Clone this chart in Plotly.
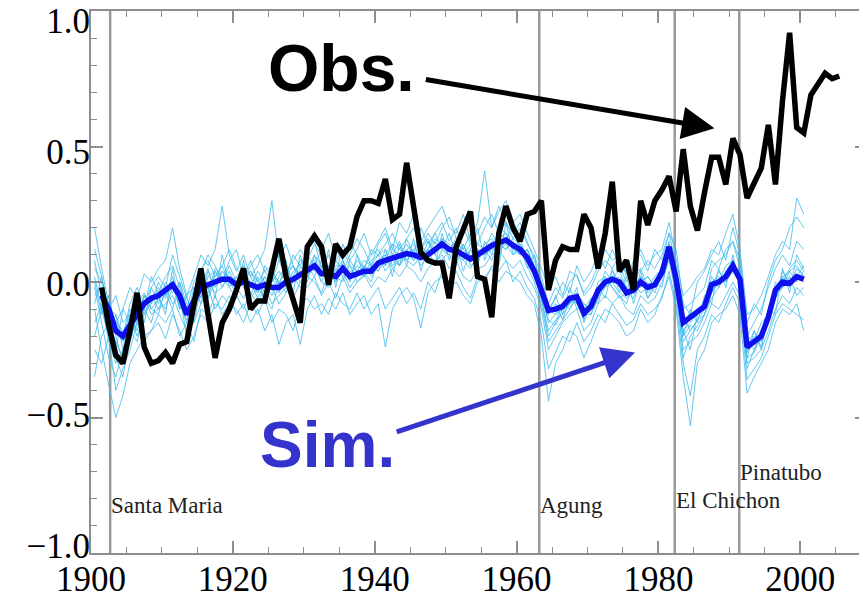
import plotly.graph_objects as go

# ---------------- data ----------------
obs_years = list(range(1901, 2006))
obs_anom = [
    -0.02, -0.16, -0.27, -0.30, -0.18, -0.04, -0.24, -0.30, -0.29,
    -0.26, -0.30, -0.23, -0.22, -0.08, 0.05, -0.12, -0.28, -0.15, -0.10,
    -0.03, 0.05, -0.10, -0.07, -0.07, 0.05, 0.16, 0.02, -0.07, -0.15,
    0.13, 0.17, 0.13, -0.01, 0.14, 0.10, 0.13, 0.24, 0.30, 0.30,
    0.29, 0.38, 0.23, 0.25, 0.44, 0.27, 0.11, 0.08, 0.07, 0.07,
    -0.06, 0.13, 0.19, 0.26, 0.02, 0.01, -0.13, 0.18, 0.28, 0.20,
    0.15, 0.25, 0.26, 0.30, -0.03, 0.08, 0.13, 0.12, 0.12, 0.25,
    0.20, 0.05, 0.18, 0.37, 0.04, 0.08, -0.03, 0.30, 0.21, 0.30,
    0.34, 0.39, 0.26, 0.49, 0.28, 0.19, 0.33, 0.46, 0.46, 0.36,
    0.53, 0.47, 0.31, 0.37, 0.42, 0.58, 0.36, 0.67, 0.92, 0.57,
    0.55, 0.69, 0.73, 0.77, 0.75, 0.76,
]

sim_years = list(range(1901, 2001))
sim_mean = [
    -0.05, -0.10, -0.18, -0.20, -0.16, -0.12, -0.08, -0.06, -0.05,
    -0.03, -0.01, -0.05, -0.12, -0.07, -0.02, -0.01, 0.00, 0.01, 0.01,
    -0.01, 0.00, -0.01, -0.02, -0.01, -0.02, -0.02, 0.00, 0.01, 0.025,
    0.04, 0.06, 0.03, 0.03, 0.02, 0.05, 0.02, 0.03, 0.04, 0.04,
    0.07, 0.08, 0.09, 0.10, 0.105, 0.10, 0.09, 0.10, 0.12, 0.14,
    0.12, 0.115, 0.10, 0.085, 0.10, 0.12, 0.135, 0.145, 0.155, 0.135,
    0.12, 0.09, 0.04, -0.03, -0.105, -0.10, -0.09, -0.06, -0.055, -0.115,
    -0.09, -0.03, 0.00, 0.01, 0.00, -0.04, -0.03, 0.00, -0.02, -0.01,
    0.035, 0.13, 0.01, -0.15, -0.13, -0.11, -0.09, -0.01, 0.00, 0.02,
    0.06, 0.01, -0.24, -0.22, -0.20, -0.13, -0.03, 0.00, -0.005, 0.02,
    0.01,
]

member_years = list(range(1900, 2001))
member_a = [
    0.20, 0.05, -0.08, -0.15, -0.10, -0.02, -0.06, 0.03, 0.00, 0.05,
    0.08, 0.20, 0.05, -0.05, 0.02, 0.10, 0.06, 0.12, 0.28, 0.10,
    0.04, 0.10, 0.02, 0.06, 0.12, 0.30, 0.08, 0.02, 0.10, 0.06,
    0.12, 0.15, 0.05, 0.10, 0.02, 0.14, 0.08, 0.12, 0.18, 0.10,
    0.15, 0.20, 0.12, 0.22, 0.18, 0.25, 0.15, 0.20, 0.24, 0.28,
    0.20, 0.18, 0.25, 0.15, 0.22, 0.41, 0.20, 0.26, 0.30, 0.22,
    0.25, 0.18, 0.12, 0.05, -0.02, 0.02, -0.05, 0.04, 0.02, -0.04,
    0.00, 0.06, 0.12, 0.08, 0.10, 0.03, 0.05, 0.12, 0.06, 0.10,
    0.12, 0.22, 0.08, -0.05, -0.02, 0.02, 0.05, 0.12, 0.10, 0.18,
    0.25, 0.12, -0.12, -0.10, -0.05, 0.02, 0.10, 0.15, 0.12, 0.31,
    0.25,
]
member_b = [
    -0.10, -0.25, -0.38, -0.50, -0.42, -0.30, -0.25, -0.20, -0.18, -0.15,
    -0.21, -0.12, -0.18, -0.25, -0.20, -0.12, -0.15, -0.08, -0.10, -0.05,
    -0.12, -0.08, -0.15, -0.10, -0.18, -0.12, -0.23, -0.15, -0.12, -0.23,
    -0.10, -0.05, -0.12, -0.06, -0.10, -0.04, -0.12, -0.08, -0.05, -0.12,
    -0.08, -0.24, -0.10, -0.05, -0.02, -0.06, -0.17, -0.04, 0.00, 0.02,
    -0.02, 0.00, -0.05, -0.08, 0.00, 0.02, 0.05, 0.00, 0.04, 0.02,
    0.00, -0.05, -0.08, -0.20, -0.44, -0.30, -0.25, -0.18, -0.20, -0.28,
    -0.22, -0.15, -0.10, -0.12, -0.15, -0.20, -0.18, -0.10, -0.15, -0.12,
    -0.05, 0.02, -0.10, -0.35, -0.53, -0.30, -0.25, -0.15, -0.12, -0.10,
    -0.05, -0.12, -0.41, -0.35, -0.30, -0.25, -0.15, -0.10, -0.12, -0.08,
    -0.18,
]
member_c = [
    0.05, 0.00, -0.10, -0.12, -0.20, -0.08, -0.02, -0.10, 0.02, -0.04,
    0.02, 0.06, -0.02, -0.10, 0.00, 0.05, 0.08, 0.02, 0.06, 0.12,
    0.05, 0.02, 0.08, 0.00, 0.04, 0.06, 0.10, 0.04, 0.08, 0.12,
    0.08, 0.14, 0.10, 0.05, 0.12, 0.08, 0.15, 0.10, 0.05, 0.12,
    0.10, 0.14, 0.18, 0.12, 0.16, 0.10, 0.20, 0.14, 0.18, 0.22,
    0.15, 0.20, 0.12, 0.18, 0.14, 0.20, 0.25, 0.18, 0.22, 0.16,
    0.20, 0.14, 0.10, 0.02, -0.08, -0.02, -0.06, 0.00, 0.03, -0.05,
    -0.02, 0.04, 0.08, 0.05, 0.10, 0.02, 0.06, 0.04, 0.08, 0.05,
    0.10, 0.18, 0.06, -0.10, -0.08, -0.05, -0.02, 0.08, 0.05, 0.12,
    0.15, 0.08, -0.20, -0.15, -0.10, -0.02, 0.05, 0.10, 0.06, 0.15,
    0.12,
]
member_d = [
    -0.15, -0.08, -0.22, -0.30, -0.25, -0.20, -0.15, -0.05, -0.12, -0.10,
    -0.08, -0.05, -0.12, -0.18, -0.15, -0.08, -0.02, -0.10, -0.05, -0.08,
    -0.05, -0.10, -0.04, -0.08, -0.02, -0.08, -0.05, -0.02, -0.06, 0.00,
    -0.02, 0.02, -0.05, 0.00, -0.06, 0.02, -0.04, 0.00, 0.03, -0.02,
    0.02, 0.00, 0.05, 0.02, 0.06, 0.04, 0.00, 0.05, 0.08, 0.10,
    0.05, 0.08, 0.02, 0.00, 0.05, 0.06, 0.10, 0.12, 0.08, 0.05,
    0.08, 0.02, -0.02, -0.10, -0.25, -0.20, -0.15, -0.12, -0.10, -0.18,
    -0.15, -0.08, -0.05, -0.08, -0.05, -0.10, -0.12, -0.05, -0.08, -0.06,
    0.00, 0.08, -0.05, -0.25, -0.22, -0.20, -0.15, -0.08, -0.10, -0.05,
    0.00, -0.05, -0.30, -0.28, -0.25, -0.18, -0.10, -0.05, -0.08, -0.02,
    -0.05,
]
member_e = [
    -0.35, -0.20, -0.15, -0.25, -0.10, -0.15, -0.05, -0.12, -0.08, 0.00,
    -0.05, 0.02, -0.08, -0.15, -0.05, 0.00, -0.04, 0.05, 0.02, -0.02,
    0.02, 0.05, -0.02, 0.04, 0.00, -0.05, 0.02, 0.06, 0.00, 0.05,
    0.06, 0.02, 0.08, 0.04, 0.00, 0.06, 0.02, 0.08, 0.05, 0.10,
    0.12, 0.06, 0.10, 0.15, 0.08, 0.12, 0.06, 0.10, 0.15, 0.12,
    0.18, 0.10, 0.08, 0.12, 0.06, 0.15, 0.10, 0.20, 0.18, 0.12,
    0.10, 0.12, 0.05, -0.05, -0.15, -0.12, -0.08, -0.05, -0.08, -0.12,
    -0.10, 0.00, 0.02, -0.02, -0.05, -0.08, 0.00, 0.05, -0.02, 0.02,
    0.05, 0.15, 0.00, -0.18, -0.15, -0.12, -0.10, 0.02, -0.02, 0.04,
    0.08, 0.02, -0.25, -0.20, -0.22, -0.15, -0.05, 0.02, -0.02, 0.05,
    0.02,
]
member_f = [
    0.00, -0.12, -0.05, -0.20, -0.30, -0.18, -0.22, -0.10, -0.15, -0.05,
    -0.12, 0.05, -0.10, -0.05, -0.15, -0.02, 0.05, -0.06, 0.10, -0.02,
    -0.06, 0.08, -0.05, 0.02, -0.08, 0.05, -0.02, 0.08, -0.04, 0.10,
    0.00, 0.10, 0.02, 0.12, -0.02, 0.08, 0.00, 0.10, 0.02, 0.06,
    0.04, 0.12, 0.02, 0.14, 0.06, 0.16, 0.04, 0.12, 0.06, 0.18,
    0.08, 0.14, 0.04, 0.12, 0.20, 0.08, 0.15, 0.06, 0.22, 0.10,
    0.14, 0.05, 0.10, -0.05, -0.12, -0.05, -0.12, -0.02, -0.10, -0.08,
    -0.12, -0.02, -0.06, 0.05, -0.04, 0.02, -0.08, 0.02, -0.06, 0.00,
    -0.02, 0.10, 0.05, -0.20, -0.10, -0.15, -0.05, -0.08, 0.05, -0.02,
    0.10, -0.02, -0.28, -0.18, -0.25, -0.10, -0.12, 0.05, -0.04, 0.10,
    0.05,
]
member_g = [
    0.08, -0.05, -0.15, -0.22, -0.28, -0.15, -0.10, -0.08, -0.02, -0.08,
    0.00, -0.04, 0.00, -0.08, -0.10, -0.05, 0.00, -0.04, -0.02, 0.04,
    -0.02, -0.06, 0.00, -0.04, 0.02, -0.02, -0.08, -0.04, 0.02, -0.02,
    0.02, 0.00, -0.04, 0.04, 0.00, 0.04, -0.02, 0.02, 0.06, 0.02,
    0.06, 0.10, 0.05, 0.08, 0.12, 0.08, 0.12, 0.08, 0.06, 0.12,
    0.10, 0.06, 0.14, 0.08, 0.12, 0.10, 0.14, 0.10, 0.16, 0.20,
    0.12, 0.08, 0.02, -0.06, -0.18, -0.14, -0.12, -0.08, -0.02, -0.15,
    -0.08, -0.05, 0.00, 0.02, -0.02, -0.05, 0.02, -0.02, 0.00, -0.04,
    0.04, 0.12, -0.02, -0.22, -0.18, -0.14, -0.12, 0.00, 0.02, 0.00,
    0.05, 0.00, -0.32, -0.25, -0.18, -0.12, 0.00, -0.02, 0.02, -0.05,
    -0.02,
]
member_h = [
    -0.05, -0.02, -0.20, -0.15, -0.18, -0.22, -0.12, -0.05, -0.10, -0.12,
    -0.02, -0.08, -0.05, -0.20, -0.08, -0.02, -0.06, 0.00, 0.04, 0.00,
    0.02, -0.02, -0.06, -0.02, -0.06, -0.10, 0.00, -0.02, 0.04, 0.06,
    0.02, 0.06, 0.00, -0.02, 0.05, 0.02, 0.06, 0.00, 0.02, 0.08,
    0.10, 0.04, 0.08, 0.06, 0.12, 0.14, 0.08, 0.15, 0.10, 0.16,
    0.12, 0.15, 0.08, 0.05, 0.10, 0.12, 0.08, 0.14, 0.12, 0.15,
    0.10, 0.12, 0.06, -0.02, -0.10, -0.12, -0.10, -0.06, -0.08, -0.14,
    -0.06, -0.04, 0.04, 0.00, 0.02, -0.02, 0.00, -0.04, -0.02, 0.00,
    0.06, 0.14, 0.02, -0.15, -0.12, -0.10, -0.08, 0.05, 0.08, 0.10,
    0.15, 0.05, -0.22, -0.25, -0.20, -0.15, -0.02, 0.00, 0.05, 0.08,
    0.04,
]
member_i = [
    -0.20, -0.10, -0.05, -0.18, -0.22, -0.10, -0.15, -0.05, -0.08, -0.02,
    -0.06, 0.00, -0.10, -0.05, -0.02, -0.08, 0.02, 0.04, -0.02, 0.02,
    0.00, 0.04, 0.00, -0.06, 0.00, 0.02, 0.00, 0.04, 0.06, 0.02,
    0.06, 0.08, 0.04, 0.06, 0.04, 0.08, 0.02, 0.06, 0.04, 0.00,
    0.08, 0.06, 0.12, 0.10, 0.08, 0.06, 0.10, 0.12, 0.16, 0.14,
    0.12, 0.10, 0.14, 0.06, 0.08, 0.14, 0.16, 0.12, 0.14, 0.10,
    0.12, 0.06, 0.00, -0.08, -0.22, -0.18, -0.14, -0.10, -0.06, -0.12,
    -0.12, -0.06, -0.02, 0.00, -0.04, -0.06, -0.02, 0.02, -0.04, 0.00,
    0.02, 0.10, 0.00, -0.28, -0.20, -0.16, -0.12, -0.06, -0.02, 0.02,
    0.04, 0.00, -0.26, -0.22, -0.15, -0.12, -0.06, 0.04, 0.00, 0.02,
    0.06,
]
member_j = [
    -0.02, -0.15, -0.28, -0.35, -0.25, -0.12, -0.18, -0.08, -0.05, -0.06,
    -0.04, -0.02, -0.06, -0.12, -0.04, 0.00, -0.02, 0.02, 0.06, 0.00,
    -0.04, 0.02, 0.04, -0.02, 0.02, 0.00, 0.04, 0.00, 0.02, 0.08,
    0.06, 0.04, 0.06, 0.02, 0.06, 0.06, 0.04, 0.02, 0.06, 0.04,
    0.08, 0.10, 0.14, 0.12, 0.10, 0.12, 0.14, 0.10, 0.12, 0.16,
    0.14, 0.12, 0.10, 0.14, 0.12, 0.10, 0.12, 0.16, 0.18, 0.14,
    0.10, 0.12, 0.06, -0.04, -0.14, -0.16, -0.10, -0.08, -0.06, -0.10,
    -0.08, -0.02, 0.00, 0.02, 0.04, -0.02, -0.04, 0.00, 0.02, -0.02,
    0.04, 0.12, 0.04, -0.12, -0.18, -0.14, -0.10, -0.04, 0.00, 0.02,
    0.06, 0.04, -0.20, -0.22, -0.20, -0.14, -0.06, -0.02, 0.00, 0.02,
    0.00,
]
member_k = [
    0.12, 0.02, -0.12, -0.28, -0.35, -0.20, -0.08, -0.15, -0.02, 0.02,
    -0.02, 0.10, 0.02, -0.06, -0.12, 0.04, 0.10, 0.06, 0.00, 0.08,
    0.12, 0.02, 0.06, 0.10, 0.04, 0.00, 0.08, 0.14, 0.06, 0.02,
    0.10, 0.06, 0.12, 0.18, 0.08, 0.04, 0.10, 0.16, 0.12, 0.06,
    0.14, 0.18, 0.10, 0.06, 0.16, 0.20, 0.12, 0.18, 0.14, 0.20,
    0.24, 0.16, 0.20, 0.14, 0.18, 0.24, 0.20, 0.28, 0.22, 0.18,
    0.22, 0.15, 0.08, 0.00, -0.10, -0.06, 0.00, -0.04, 0.06, 0.00,
    0.04, 0.10, 0.05, 0.12, 0.06, 0.00, 0.08, 0.10, 0.04, 0.12,
    0.08, 0.18, 0.12, -0.08, -0.12, 0.00, 0.04, 0.10, 0.15, 0.08,
    0.20, 0.10, -0.15, -0.08, -0.12, 0.00, 0.08, 0.12, 0.20, 0.24,
    0.20,
]
member_l = [
    -0.25, -0.30, -0.20, -0.40, -0.32, -0.25, -0.15, -0.22, -0.18, -0.12,
    -0.15, -0.10, -0.20, -0.15, -0.22, -0.10, -0.12, -0.05, -0.12, -0.08,
    -0.10, -0.15, -0.08, -0.12, -0.06, -0.15, -0.10, -0.12, -0.18, -0.08,
    -0.06, -0.10, -0.08, -0.12, -0.04, -0.08, -0.10, -0.04, -0.10, -0.06,
    -0.02, -0.10, -0.06, -0.02, -0.08, -0.04, -0.10, 0.00, -0.04, 0.04,
    0.00, 0.04, -0.02, -0.06, 0.02, 0.00, 0.06, 0.04, 0.08, 0.00,
    0.04, -0.02, -0.06, -0.15, -0.32, -0.26, -0.20, -0.22, -0.15, -0.22,
    -0.18, -0.12, -0.15, -0.08, -0.12, -0.16, -0.14, -0.08, -0.12, -0.10,
    -0.06, 0.04, -0.08, -0.30, -0.42, -0.25, -0.20, -0.12, -0.15, -0.08,
    -0.02, -0.08, -0.36, -0.32, -0.28, -0.20, -0.12, -0.08, -0.10, -0.12,
    -0.14,
]
member_m = [
    -0.08, 0.02, -0.10, -0.05, -0.15, -0.12, -0.20, -0.12, -0.05, -0.10,
    -0.04, -0.10, 0.00, -0.12, -0.06, 0.02, -0.06, 0.04, 0.00, 0.06,
    0.00, 0.06, 0.02, -0.04, 0.06, 0.02, -0.04, 0.02, 0.06, 0.00,
    0.04, 0.10, 0.06, 0.00, 0.08, 0.12, 0.06, 0.04, 0.08, 0.06,
    0.04, 0.08, 0.14, 0.06, 0.10, 0.08, 0.12, 0.16, 0.10, 0.08,
    0.12, 0.16, 0.10, 0.08, 0.14, 0.12, 0.18, 0.14, 0.12, 0.16,
    0.14, 0.10, 0.04, -0.02, -0.12, -0.08, -0.14, -0.06, -0.04, -0.10,
    -0.06, -0.08, 0.02, -0.02, -0.06, -0.04, -0.06, 0.04, -0.06, -0.02,
    0.02, 0.14, 0.00, -0.20, -0.16, -0.18, -0.12, -0.04, 0.00, 0.06,
    0.08, 0.02, -0.24, -0.18, -0.24, -0.12, -0.04, -0.02, 0.04, 0.00,
    0.04,
]
member_n = [
    0.02, -0.10, -0.20, -0.12, -0.25, -0.18, -0.08, -0.04, -0.10, -0.06,
    -0.10, -0.02, -0.08, -0.14, -0.02, -0.06, 0.04, -0.02, 0.04, 0.02,
    -0.02, 0.00, 0.04, 0.00, -0.04, 0.04, 0.00, -0.04, 0.00, 0.04,
    0.02, 0.06, 0.00, 0.06, 0.02, 0.00, 0.08, 0.04, 0.02, 0.06,
    0.10, 0.12, 0.06, 0.10, 0.14, 0.10, 0.08, 0.12, 0.18, 0.12,
    0.10, 0.14, 0.12, 0.10, 0.08, 0.12, 0.14, 0.18, 0.16, 0.12,
    0.16, 0.08, 0.04, -0.06, -0.20, -0.15, -0.08, -0.10, -0.04, -0.08,
    -0.10, -0.04, -0.02, 0.04, 0.00, -0.04, -0.02, 0.00, 0.02, -0.02,
    0.02, 0.10, 0.02, -0.18, -0.25, -0.12, -0.08, -0.02, 0.04, 0.00,
    0.04, 0.02, -0.28, -0.26, -0.20, -0.10, -0.02, 0.02, 0.04, 0.06,
    0.02,
]
members = [member_a, member_b, member_c, member_d, member_e, member_f,
           member_g, member_h, member_i, member_j, member_k, member_l,
           member_m, member_n]

volcano_names = ["Santa Maria", "Agung", "El Chichon", "Pinatubo"]
volcano_dates = [1902.7, 1963.2, 1982.3, 1991.4]

x_tick_vals = [1900, 1920, 1940, 1960, 1980, 2000]
y_tick_vals = [-1.0, -0.5, 0.0, 0.5, 1.0]
y_tick_text = ["\u22121.0", "\u22120.5", "0.0", "0.5", "1.0"]

# annual means are drawn at mid-year
MID = 0.5

# ---------------- figure ----------------
fig = go.Figure()

for m in members:
    fig.add_trace(go.Scatter(
        x=[y + MID for y in member_years], y=m, mode="lines",
        line=dict(color="rgba(62,186,236,0.8)", width=1),
        hoverinfo="skip", showlegend=False))

fig.add_trace(go.Scatter(
    x=[y + MID for y in sim_years], y=sim_mean, mode="lines",
    line=dict(color="#1010ec", width=5.5), name="Sim.", showlegend=False))

fig.add_trace(go.Scatter(
    x=[y + MID for y in obs_years], y=obs_anom, mode="lines",
    line=dict(color="black", width=5.5), name="Obs.", showlegend=False))

# dummy trace to carry the label axis
fig.add_trace(go.Scatter(x=[None], y=[None], yaxis="y2",
                         hoverinfo="skip", showlegend=False))

frame = "#8e8e8e"
serif = "Liberation Serif, Times New Roman, serif"

shapes = []
for d in volcano_dates:
    shapes.append(dict(type="line", xref="x", yref="paper", x0=d, x1=d,
                       y0=0, y1=1, line=dict(color="#9a9a9a", width=2.5),
                       layer="below"))

label_y = [-0.824, -0.824, -0.806, -0.702]
annotations = []
for name, d, ly in zip(volcano_names, volcano_dates, label_y):
    annotations.append(dict(x=d, y=ly, xref="x", yref="y", text=name,
                            showarrow=False, xanchor="left", yanchor="middle",
                            xshift=-1,
                            font=dict(family=serif, size=23, color="#222")))

sans = "Liberation Sans, Arial, sans-serif"
annotations += [
    dict(x=1935.3, y=0.79, xref="x", yref="y", text="<b>Obs.</b>",
         showarrow=False, font=dict(family=sans, size=66, color="black")),
    dict(x=1933.4, y=-0.60, xref="x", yref="y", text="<b>Sim.</b>",
         showarrow=False, font=dict(family=sans, size=64, color="#3434cc")),
    dict(x=1987.9, y=0.567, ax=1947.0, ay=0.748, xref="x", yref="y",
         axref="x", ayref="y", text="", showarrow=True, arrowhead=2,
         arrowsize=1.3, arrowwidth=5, arrowcolor="black"),
    dict(x=1976.7, y=-0.26, ax=1942.9, ay=-0.555, xref="x", yref="y",
         axref="x", ayref="y", text="", showarrow=True, arrowhead=2,
         arrowsize=1.3, arrowwidth=5, arrowcolor="#3434cc"),
]

# the page body adds an 8 px offset at top-left; size the figure to fit
fig.update_layout(
    width=859, height=590,
    margin=dict(l=83, r=0, t=3, b=45, autoexpand=False),
    plot_bgcolor="white", paper_bgcolor="white",
    showlegend=False,
    shapes=shapes, annotations=annotations,
    xaxis=dict(
        range=[1900, 2009.41], tickvals=x_tick_vals, automargin=False,
        ticks="inside", ticklen=12, tickwidth=1.5, tickcolor=frame,
        showline=True, linecolor=frame, linewidth=2, mirror="ticks",
        showgrid=False, zeroline=False,
        ticklabeloverflow="allow", ticklabelstandoff=-6,
        tickfont=dict(family=serif, size=35, color="black"),
        minor=dict(dtick=5, tick0=1900, ticks="inside", ticklen=6,
                   tickwidth=1.2, tickcolor=frame, showgrid=False),
    ),
    yaxis=dict(
        range=[-1, 1], tickvals=y_tick_vals, showticklabels=False,
        automargin=False,
        ticks="inside", ticklen=12, tickwidth=1.5, tickcolor=frame,
        showline=True, linecolor=frame, linewidth=2, mirror="ticks",
        showgrid=False, zeroline=False,
        minor=dict(dtick=0.1, tick0=0, ticks="inside", ticklen=6,
                   tickwidth=1.2, tickcolor=frame, showgrid=False),
    ),
    yaxis2=dict(
        overlaying="y", side="left", range=[-1.0275, 1.0373],
        tickvals=y_tick_vals, ticktext=y_tick_text, automargin=False,
        showline=False, ticks="", showgrid=False, zeroline=False,
        ticklabeloverflow="allow",
        tickfont=dict(family=serif, size=35, color="black"),
    ),
)

fig.write_html("out.html")
